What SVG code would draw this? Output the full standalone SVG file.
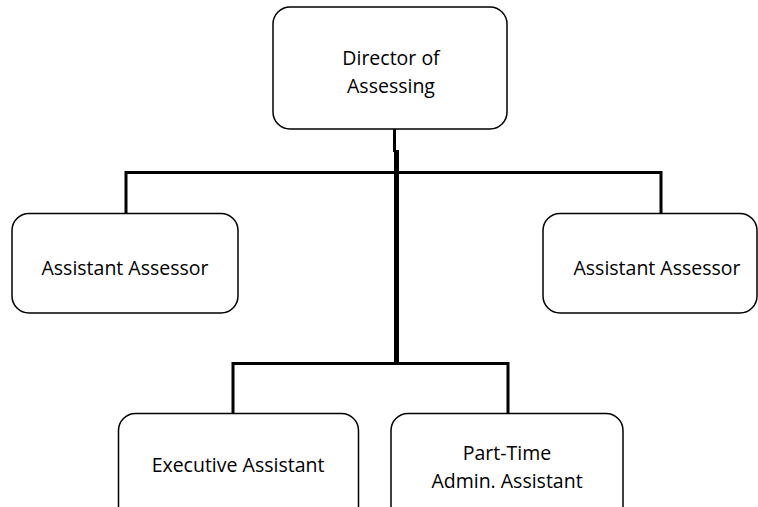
<svg xmlns="http://www.w3.org/2000/svg" width="758" height="507" viewBox="0 0 758 507">
  <style>
    .box { fill: #ffffff; stroke: #000000; stroke-width: 1.5; }
    .lbl { font-family: "Open Sans", "Liberation Sans", sans-serif; font-size: 19.5px; fill: #000000; text-anchor: middle; }
    .wire { fill: none; stroke: #000000; stroke-width: 3; stroke-linejoin: miter; stroke-linecap: butt; }
    .trunk { fill: none; stroke: #000000; stroke-width: 5; }
  </style>
  <rect width="758" height="507" fill="#ffffff"/>

  <g id="connectors">
    <line class="wire" x1="394.5" y1="129" x2="394.5" y2="152"/>
    <line class="trunk" x1="396.5" y1="150" x2="396.5" y2="364"/>
    <polyline class="wire" points="126,213 126,172.5 661,172.5 661,213"/>
    <polyline class="wire" points="233,413 233,363.5 508,363.5 508,413"/>
  </g>

  <g id="director">
    <rect class="box" x="273" y="7" width="234" height="122" rx="17" ry="17"/>
    <text class="lbl" x="391" y="65">Director of</text>
    <text class="lbl" x="391" y="93">Assessing</text>
  </g>

  <g id="assessor-left">
    <rect class="box" x="12" y="213.5" width="226" height="99.5" rx="17" ry="17"/>
    <text class="lbl" x="125" y="275">Assistant Assessor</text>
  </g>

  <g id="assessor-right">
    <rect class="box" x="543" y="213.5" width="214" height="99.5" rx="17" ry="17"/>
    <text class="lbl" x="657" y="275">Assistant Assessor</text>
  </g>

  <g id="executive-assistant">
    <rect class="box" x="118.5" y="413.5" width="240" height="110" rx="17" ry="17"/>
    <text class="lbl" x="238" y="472">Executive Assistant</text>
  </g>

  <g id="admin-assistant">
    <rect class="box" x="391" y="413.5" width="232" height="110" rx="17" ry="17"/>
    <text class="lbl" x="507" y="460">Part-Time</text>
    <text class="lbl" x="507" y="488">Admin. Assistant</text>
  </g>
</svg>
